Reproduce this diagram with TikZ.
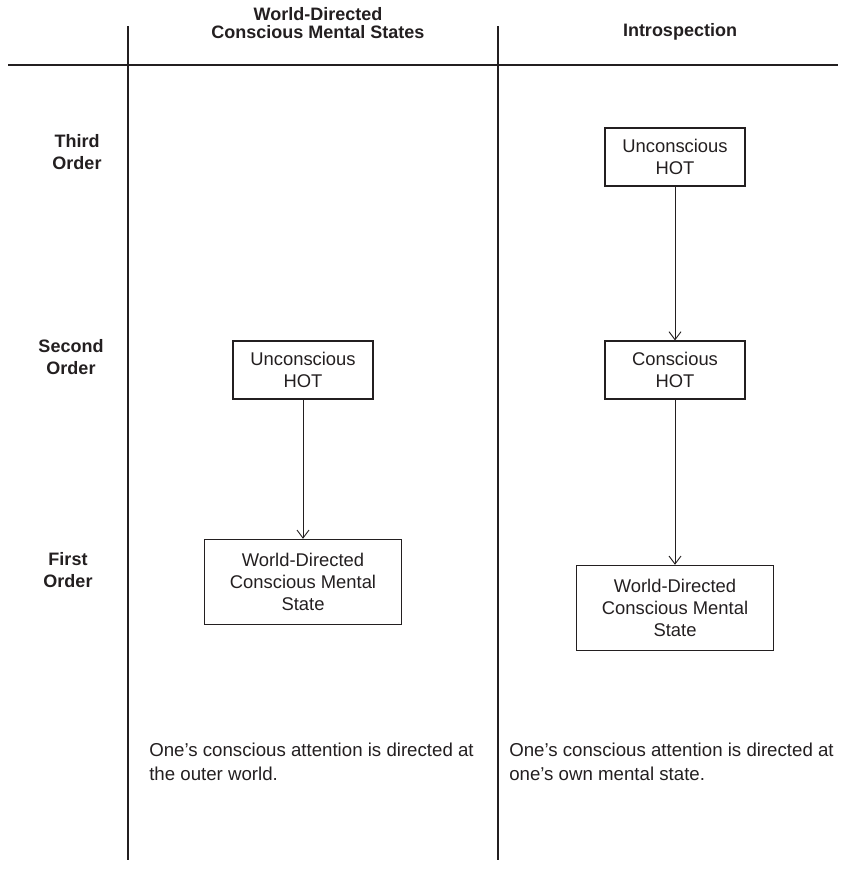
\documentclass[tikz,border=0pt]{standalone}
\usepackage{fontspec}
\setmainfont{Liberation Sans}
\usetikzlibrary{arrows.meta}
\definecolor{ink}{RGB}{35,31,32}
\begin{document}
\begin{tikzpicture}[x=0.75pt, y=-0.75pt,
  every node/.style={text=ink, font=\fontsize{13.8}{16.5}\selectfont},
  box/.style={draw=ink, line width=0.8pt, align=center, inner sep=0pt},
  hotbox/.style={box, minimum width=105pt, minimum height=43.5pt},
  worldbox/.style={box, minimum width=148pt, minimum height=64pt},
  head/.style={font=\bfseries\fontsize{13.5}{14}\selectfont, align=center},
  rowlabel/.style={font=\bfseries\fontsize{13.5}{16.5}\selectfont, align=center},
  note/.style={align=left, anchor=north west, inner sep=0pt, font=\fontsize{14}{18}\selectfont},
  rule/.style={draw=ink, line width=0.8pt},
  link/.style={draw=ink, line width=0.7pt, -{Straight Barb[length=6pt,width=9pt]}}
]
\useasboundingbox (0,0) rectangle (841,890);

% column heads and rules
\node[head] (headworld) at (318,23) {World-Directed\\Conscious Mental States};
\node[head] (headintro) at (680,32) {Introspection};
\coordinate (lefttop) at (128,26);
\coordinate (leftbot) at (128,860);
\coordinate (righttop) at (498,26);
\coordinate (rightbot) at (498,860);
\coordinate (rulew) at (8,65);
\coordinate (rulee) at (838,65);
\draw[rule] (lefttop) -- (leftbot);
\draw[rule] (righttop) -- (rightbot);
\draw[rule] (rulew) -- (rulee);

% orders
\node[rowlabel] (third) at (77,152) {Third\\Order};
\node[rowlabel] (second) at (71,357) {Second\\Order};
\node[rowlabel] (first) at (68,570) {First\\Order};

% world-directed column
\node[hotbox] (lhot) at (303,370) {Unconscious\\HOT};
\node[worldbox] (lworld) at (303,582) {World-Directed\\Conscious Mental\\State};
\draw[link] (lhot) -- (lworld);

% introspection column
\node[hotbox] (rtop) at (675,157) {Unconscious\\HOT};
\node[hotbox] (rhot) at (675,370) {Conscious\\HOT};
\node[worldbox] (rworld) at (675,608) {World-Directed\\Conscious Mental\\State};
\draw[link] (rtop) -- (rhot);
\draw[link] (rhot) -- (rworld);

% notes
\node[note] (lnote) at (149,743) {One’s conscious attention is directed at\\the outer world.};
\node[note] (rnote) at (509,743) {One’s conscious attention is directed at\\one’s own mental state.};
\end{tikzpicture}
\end{document}
